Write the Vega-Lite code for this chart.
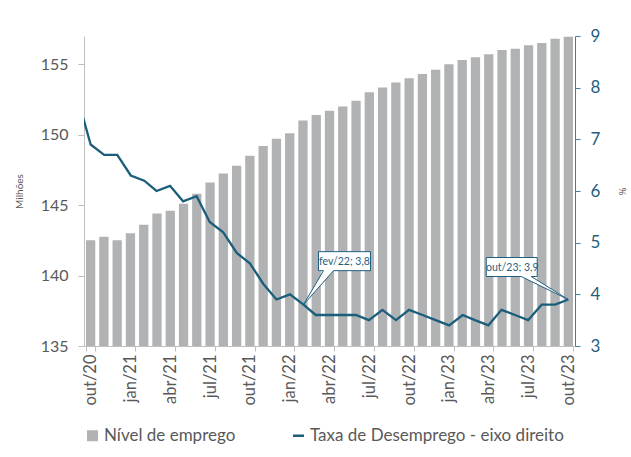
{
  "$schema": "https://vega.github.io/schema/vega-lite/v6.json",
  "width": 491,
  "height": 310,
  "autosize": "none",
  "padding": {"left": 84, "top": 36, "right": 56, "bottom": 111},
  "background": "white",
  "config": {"font": "Lato", "view": {"stroke": null}},
  "datasets": {
    "serie": [
      {"mes": "set/20", "data": "2020-09-01", "taxa": 7.8},
      {"mes": "out/20", "data": "2020-10-01", "emprego": 142.5, "taxa": 6.9},
      {"mes": "nov/20", "data": "2020-11-01", "emprego": 142.75, "taxa": 6.7},
      {"mes": "dez/20", "data": "2020-12-01", "emprego": 142.5, "taxa": 6.7},
      {"mes": "jan/21", "data": "2021-01-01", "emprego": 143.0, "taxa": 6.3},
      {"mes": "fev/21", "data": "2021-02-01", "emprego": 143.6, "taxa": 6.2},
      {"mes": "mar/21", "data": "2021-03-01", "emprego": 144.4, "taxa": 6.0},
      {"mes": "abr/21", "data": "2021-04-01", "emprego": 144.6, "taxa": 6.1},
      {"mes": "mai/21", "data": "2021-05-01", "emprego": 145.1, "taxa": 5.8},
      {"mes": "jun/21", "data": "2021-06-01", "emprego": 145.8, "taxa": 5.9},
      {"mes": "jul/21", "data": "2021-07-01", "emprego": 146.6, "taxa": 5.4},
      {"mes": "ago/21", "data": "2021-08-01", "emprego": 147.25, "taxa": 5.2},
      {"mes": "set/21", "data": "2021-09-01", "emprego": 147.8, "taxa": 4.8},
      {"mes": "out/21", "data": "2021-10-01", "emprego": 148.5, "taxa": 4.6},
      {"mes": "nov/21", "data": "2021-11-01", "emprego": 149.2, "taxa": 4.2},
      {"mes": "dez/21", "data": "2021-12-01", "emprego": 149.7, "taxa": 3.9},
      {"mes": "jan/22", "data": "2022-01-01", "emprego": 150.1, "taxa": 4.0},
      {"mes": "fev/22", "data": "2022-02-01", "emprego": 151.0, "taxa": 3.8},
      {"mes": "mar/22", "data": "2022-03-01", "emprego": 151.4, "taxa": 3.6},
      {"mes": "abr/22", "data": "2022-04-01", "emprego": 151.7, "taxa": 3.6},
      {"mes": "mai/22", "data": "2022-05-01", "emprego": 152.0, "taxa": 3.6},
      {"mes": "jun/22", "data": "2022-06-01", "emprego": 152.4, "taxa": 3.6},
      {"mes": "jul/22", "data": "2022-07-01", "emprego": 153.0, "taxa": 3.5},
      {"mes": "ago/22", "data": "2022-08-01", "emprego": 153.35, "taxa": 3.7},
      {"mes": "set/22", "data": "2022-09-01", "emprego": 153.7, "taxa": 3.5},
      {"mes": "out/22", "data": "2022-10-01", "emprego": 154.0, "taxa": 3.7},
      {"mes": "nov/22", "data": "2022-11-01", "emprego": 154.3, "taxa": 3.6},
      {"mes": "dez/22", "data": "2022-12-01", "emprego": 154.6, "taxa": 3.5},
      {"mes": "jan/23", "data": "2023-01-01", "emprego": 155.0, "taxa": 3.4},
      {"mes": "fev/23", "data": "2023-02-01", "emprego": 155.3, "taxa": 3.6},
      {"mes": "mar/23", "data": "2023-03-01", "emprego": 155.5, "taxa": 3.5},
      {"mes": "abr/23", "data": "2023-04-01", "emprego": 155.7, "taxa": 3.4},
      {"mes": "mai/23", "data": "2023-05-01", "emprego": 156.0, "taxa": 3.7},
      {"mes": "jun/23", "data": "2023-06-01", "emprego": 156.1, "taxa": 3.6},
      {"mes": "jul/23", "data": "2023-07-01", "emprego": 156.35, "taxa": 3.5},
      {"mes": "ago/23", "data": "2023-08-01", "emprego": 156.5, "taxa": 3.8},
      {"mes": "set/23", "data": "2023-09-01", "emprego": 156.8, "taxa": 3.8},
      {"mes": "out/23", "data": "2023-10-01", "emprego": 156.95, "taxa": 3.9}
    ],
    "rotulos": [
      {"data": "2022-02-01", "taxa": 3.8, "rotulo": "fev/22; 3,8"},
      {"data": "2023-10-01", "taxa": 3.9, "rotulo": "out/23; 3,9"}
    ]
  },
  "layer": [
    {
      "data": {"name": "serie"},
      "transform": [{"filter": "isValid(datum.emprego)"}],
      "mark": {"type": "bar", "clip": true},
      "encoding": {
        "x": {
          "field": "mes", "type": "ordinal", "sort": null,
          "scale": {"paddingInner": 0.3, "paddingOuter": 0.15},
          "axis": {
            "values": ["out/20","jan/21","abr/21","jul/21","out/21","jan/22","abr/22","jul/22","out/22","jan/23","abr/23","jul/23","out/23"],
            "labelAngle": -90, "labelFontSize": 16.5, "labelColor": "#595959",
            "tickBand": "extent", "tickSize": 5, "tickColor": "#BFBFBF", "domainColor": "#BFBFBF",
            "title": null, "labelPadding": 3, "grid": false
          }
        },
        "y": {
          "field": "emprego", "type": "quantitative",
          "scale": {"domain": [135, 157], "zero": false, "nice": false},
          "axis": {
            "values": [135, 140, 145, 150, 155],
            "labelFontSize": 16, "labelColor": "#595959",
            "tickSize": 6, "tickColor": "#BFBFBF", "domainColor": "#BFBFBF", "grid": false,
            "title": "Milhões", "titleFontSize": 10, "titleFontWeight": "normal", "titleColor": "#595959",
            "titlePadding": 16, "labelPadding": 10
          }
        },
        "color": {
          "datum": "Nível de emprego", "type": "nominal",
          "scale": {"domain": ["Nível de emprego", "Taxa de Desemprego - eixo direito"], "range": ["#B0B2B3", "#1B5E7B"]},
          "legend": {
            "orient": "none", "legendX": 0, "legendY": 391, "direction": "horizontal",
            "title": null, "labelFontSize": 17, "labelColor": "#595959", "labelLimit": 500,
            "symbolSize": 121, "labelOffset": 3, "columnPadding": 52, "padding": 0,
            "encode": {
              "symbols": {
                "update": {
                  "shape": {"signal": "datum.value === 'Nível de emprego' ? 'square' : 'stroke'"},
                  "fill": {"signal": "scale('color', datum.value)"},
                  "stroke": {"signal": "scale('color', datum.value)"},
                  "strokeWidth": {"signal": "datum.value === 'Nível de emprego' ? 0 : 2.5"},
                  "opacity": {"value": 1}
                }
              }
            }
          }
        }
      }
    },
    {
      "layer": [
        {
          "data": {"name": "serie"},
          "mark": {"type": "line", "strokeWidth": 2.3, "clip": true},
          "encoding": {
            "x": {
              "field": "data", "type": "temporal",
              "scale": {"domain": [
                {"year": 2020, "month": 9, "date": 15, "hours": 18, "utc": true},
                {"year": 2023, "month": 10, "date": 16, "hours": 12, "utc": true}
              ]},
              "axis": null
            },
            "y": {
              "field": "taxa", "type": "quantitative",
              "scale": {"domain": [3, 9], "zero": false, "nice": false},
              "axis": {
                "orient": "right", "values": [3, 4, 5, 6, 7, 8, 9],
                "labelFontSize": 17, "labelColor": "#1F5F7F",
                "tickSize": 5, "tickColor": "#3D7FA3", "domainColor": "#3D7FA3", "grid": false,
                "title": "%", "titleFontSize": 10, "titleFontWeight": "normal", "titleColor": "#595959",
                "titlePadding": 17, "labelPadding": 10
              }
            },
            "color": {"datum": "Taxa de Desemprego - eixo direito", "type": "nominal"}
          }
        },
        {
          "data": {"name": "rotulos"},
          "transform": [{"filter": "datum.rotulo === 'fev/22; 3,8'"}],
          "mark": {"type": "point", "shape": "M0,0L20,-34L15,-34L15,-53L67,-53L67,-34L30,-34Z", "size": 4, "filled": true, "fill": "white", "stroke": "#1F5F7F", "strokeWidth": 1, "opacity": 1},
          "encoding": {
            "x": {"field": "data", "type": "temporal"},
            "y": {"field": "taxa", "type": "quantitative"}
          }
        },
        {
          "data": {"name": "rotulos"},
          "transform": [{"filter": "datum.rotulo === 'out/23; 3,9'"}],
          "mark": {"type": "point", "shape": "M0,0L-37,-23L-31,-23L-31,-42L-82,-42L-82,-23L-47,-23Z", "size": 4, "filled": true, "fill": "white", "stroke": "#1F5F7F", "strokeWidth": 1, "opacity": 1},
          "encoding": {
            "x": {"field": "data", "type": "temporal"},
            "y": {"field": "taxa", "type": "quantitative"}
          }
        },
        {
          "data": {"name": "rotulos"},
          "transform": [{"filter": "datum.rotulo === 'fev/22; 3,8'"}],
          "mark": {"type": "text", "dx": 41, "dy": -43, "fontSize": 10.5, "fill": "#1F5F7F", "align": "center", "baseline": "middle"},
          "encoding": {
            "x": {"field": "data", "type": "temporal"},
            "y": {"field": "taxa", "type": "quantitative"},
            "text": {"field": "rotulo"}
          }
        },
        {
          "data": {"name": "rotulos"},
          "transform": [{"filter": "datum.rotulo === 'out/23; 3,9'"}],
          "mark": {"type": "text", "dx": -56, "dy": -32, "fontSize": 10.5, "fill": "#1F5F7F", "align": "center", "baseline": "middle"},
          "encoding": {
            "x": {"field": "data", "type": "temporal"},
            "y": {"field": "taxa", "type": "quantitative"},
            "text": {"field": "rotulo"}
          }
        }
      ]
    }
  ],
  "resolve": {"scale": {"x": "independent", "y": "independent"}}
}
